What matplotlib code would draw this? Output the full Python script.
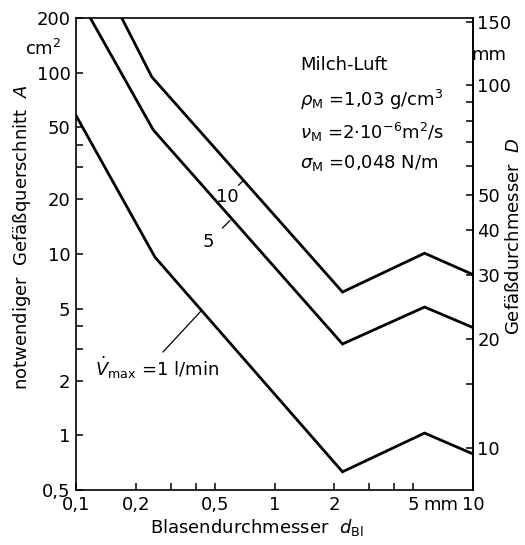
import numpy as np
import matplotlib
matplotlib.use("Agg")
import matplotlib.pyplot as plt

plt.rcParams['font.family'] = ['DejaVu Sans']
plt.rcParams['mathtext.fontset'] = 'dejavusans'

# Blasendurchmesser d_Bl (mm) vs. notwendiger Querschnitt A (cm2)
d_1 = [0.1, 0.25, 2.2, 5.7, 10]
a_1 = [58, 9.6, 0.63, 1.03, 0.79]
d_5 = [0.118, 0.245, 2.2, 5.7, 10]
a_5 = [200, 48.3, 3.19, 5.1, 3.93]
d_10 = [0.17, 0.241, 2.2, 5.7, 10]
a_10 = [200, 94.6, 6.17, 10.1, 7.7]

xticks = [0.1, 0.2, 0.5, 1, 2, 5, 10]
xlabels = ['0,1', '0,2', '0,5', '1', '2', '5', '10']
xminor = [0.3, 0.4, 3, 4]
yticks = [0.5, 1, 2, 5, 10, 20, 50, 100, 200]
ylabels = ['0,5', '1', '2', '5', '10', '20', '50', '100', '200']
yminor = [3, 4, 30, 40]
dticks = [10, 20, 30, 40, 50, 100, 150]
dminor = [15, 60, 70, 80, 90]

k = 0.0085  # A [cm2] ~ k * D[mm]^2


def a_to_d(a):
    return np.sqrt(np.clip(a, 1e-9, None) / k)


def d_to_a(d):
    return k * np.asarray(d) ** 2


fig = plt.figure(figsize=(5.25, 5.45), dpi=100)
ax = fig.add_axes([0.1448, 0.1009, 0.7562, 0.8661])

lw = 2.0
for xs, ys in [(d_1, a_1), (d_5, a_5), (d_10, a_10)]:
    ax.plot(xs, ys, color='black', lw=lw, solid_joinstyle='miter')

ax.set_xscale('log')
ax.set_yscale('log')
ax.set_xlim(0.1, 10)
ax.set_ylim(0.5, 200)

fs = 13
ax.set_xticks(xticks)
ax.set_xticklabels(xlabels)
ax.set_xticks(xminor, minor=True)
ax.set_xticklabels([], minor=True)
ax.set_yticks(yticks)
ax.set_yticklabels(ylabels)
ax.set_yticks(yminor, minor=True)
ax.set_yticklabels([], minor=True)
ax.tick_params(which='both', direction='in', length=5, width=1.1, labelsize=fs, pad=4)
for s in ax.spines.values():
    s.set_linewidth(1.2)

sec = ax.secondary_yaxis('right', functions=(a_to_d, d_to_a))
sec.set_yticks(dticks)
sec.set_yticklabels([str(t) for t in dticks])
sec.set_yticks(dminor, minor=True)
sec.set_yticklabels([], minor=True)
sec.tick_params(which='both', direction='in', length=5, width=1.1, labelsize=fs, pad=3)
sec.spines['right'].set_linewidth(1.2)

# unit labels
ax.annotate('mm', xy=(5, 0), xycoords=('data', 'axes fraction'),
            xytext=(7, -10.5), textcoords='offset points', ha='left', va='center', fontsize=fs)
fig.text(43 / 525, 1 - 49 / 545, 'cm$^2$', ha='center', va='center', fontsize=fs)
fig.text(489 / 525, 1 - 55 / 545, 'mm', ha='center', va='center', fontsize=fs)

# axis titles
fig.text(22 / 525, 1 - 237 / 545, 'notwendiger  Gefäßquerschnitt  $A$',
         rotation=90, ha='center', va='center', fontsize=fs)
fig.text(514 / 525, 1 - 236 / 545, 'Gefäßdurchmesser  $D$',
         rotation=90, ha='center', va='center', fontsize=fs)
fig.text(257 / 525, 1 - 527 / 545, r'Blasendurchmesser  $d_{\rm Bl}$',
         ha='center', va='center', fontsize=fs)

# curve labels
ax.annotate('10', xy=(0.693, 25.3), xytext=(0.575, 20.6), ha='center', va='center', fontsize=fs,
            arrowprops=dict(arrowstyle='-', lw=0.9, color='black', shrinkA=7, shrinkB=0))
ax.annotate('5', xy=(0.597, 15.3), xytext=(0.462, 11.6), ha='center', va='center', fontsize=fs,
            arrowprops=dict(arrowstyle='-', lw=0.9, color='black', shrinkA=6, shrinkB=0))
ax.annotate('', xy=(0.43, 4.9), xytext=(0.274, 2.88),
            arrowprops=dict(arrowstyle='-', lw=0.9, color='black', shrinkA=0, shrinkB=0))
ax.text(0.1247, 2.35, r'$\dot{V}_{\rm max}$ =1 l/min', ha='left', va='center', fontsize=fs)

# fluid properties
props = ['Milch-Luft',
         r'$\rho_{\rm M}$ =1,03 g/cm$^3$',
         r'$\nu_{\rm M}$ =2$\cdot$10$^{-6}$m$^2$/s',
         r'$\sigma_{\rm M}$ =0,048 N/m']
ys = [0.900, 0.826, 0.758, 0.693]
for t, y in zip(props, ys):
    ax.text(0.564, y, t, transform=ax.transAxes, ha='left', va='center', fontsize=fs)

fig.savefig('out.png', dpi=100)
